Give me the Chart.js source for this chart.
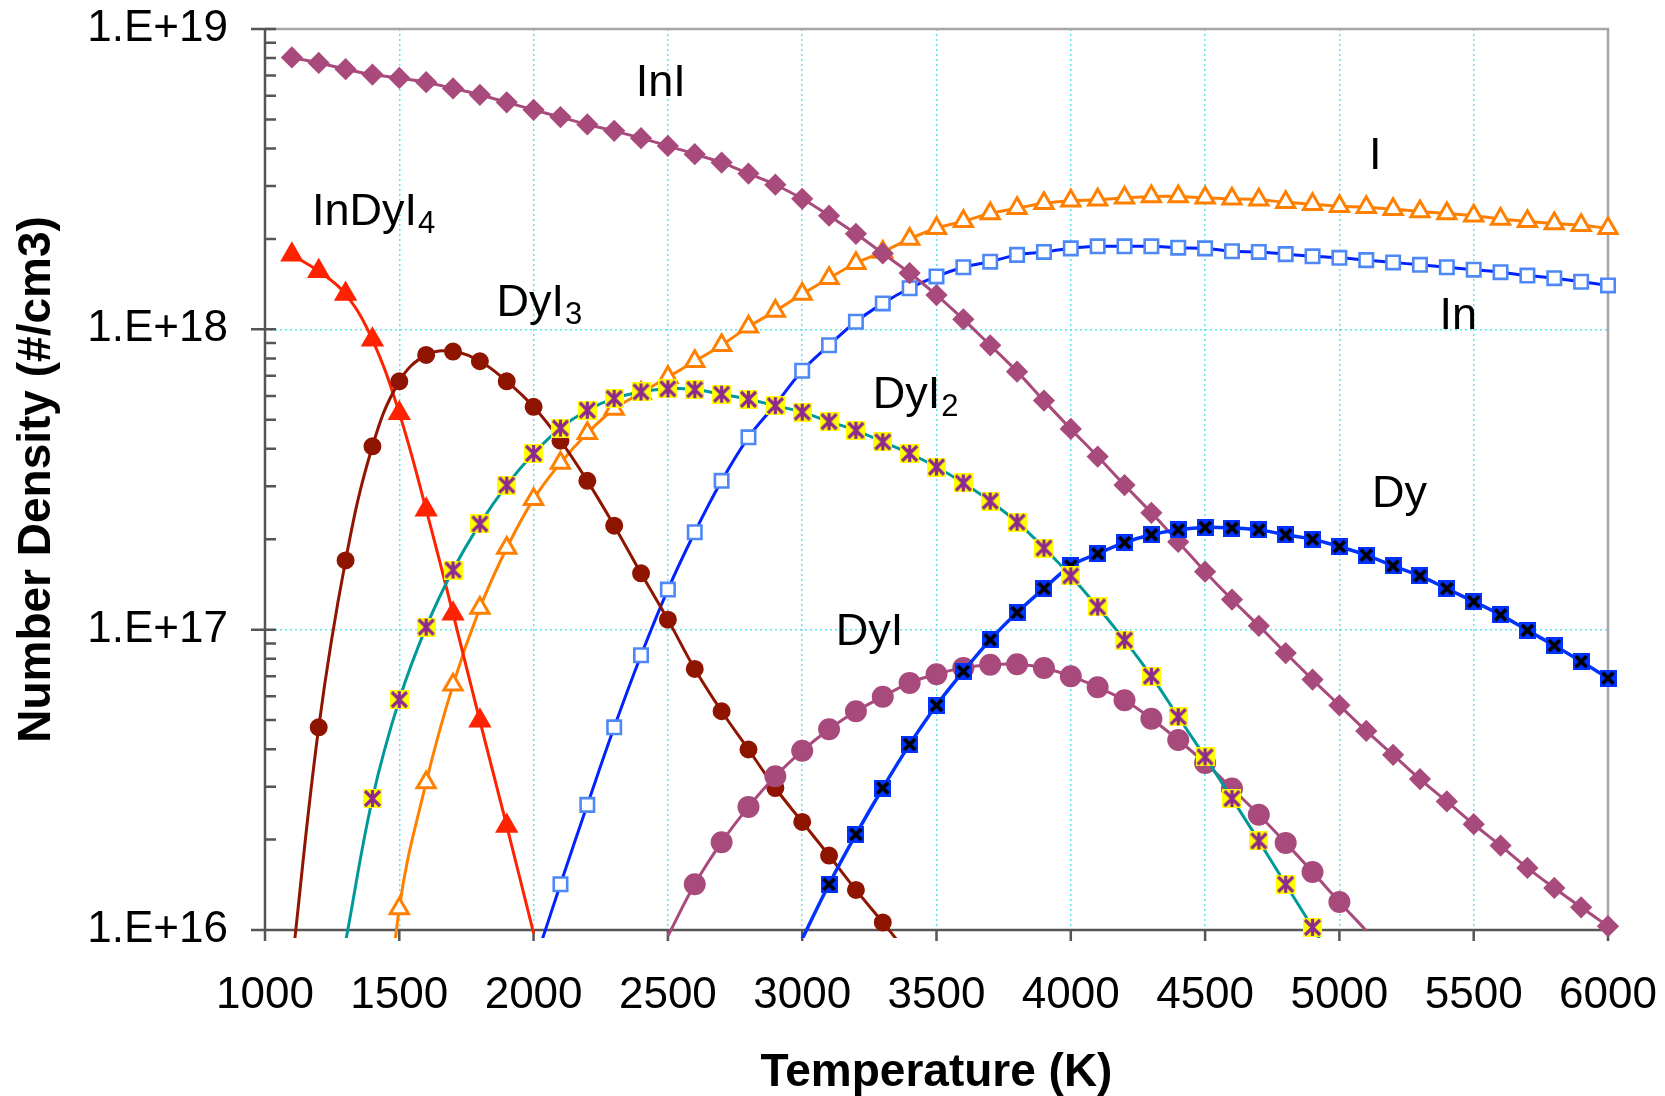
<!DOCTYPE html>
<html>
<head>
<meta charset="utf-8">
<script src="https://cdn.jsdelivr.net/npm/chart.js@4.4.0/dist/chart.umd.min.js"></script>
<style>
  html, body { margin: 0; padding: 0; background: #fff; }
  #wrap { width: 1665px; height: 1096px; }
</style>
</head>
<body>
<div id="wrap"><canvas id="chart" width="1665" height="1096"></canvas></div>
<script>
// temperature grid (K), every series uses a slice of it
const temperature = [1100, 1200, 1300, 1400, 1500, 1600, 1700, 1800, 1900, 2000,
  2100, 2200, 2300, 2400, 2500, 2600, 2700, 2800, 2900, 3000,
  3100, 3200, 3300, 3400, 3500, 3600, 3700, 3800, 3900, 4000,
  4100, 4200, 4300, 4400, 4500, 4600, 4700, 4800, 4900, 5000,
  5100, 5200, 5300, 5400, 5500, 5600, 5700, 5800, 5900, 6000];

// number densities (#/cm3)
const inI = [8.04e18, 7.71e18, 7.35e18, 7.05e18, 6.87e18, 6.65e18, 6.34e18, 6.04e18, 5.70e18, 5.38e18,
  5.09e18, 4.81e18, 4.58e18, 4.33e18, 4.08e18, 3.83e18, 3.59e18, 3.30e18, 3.03e18, 2.72e18,
  2.39e18, 2.08e18, 1.79e18, 1.54e18, 1.30e18, 1.08e18, 8.85e17, 7.23e17, 5.79e17, 4.66e17,
  3.77e17, 3.03e17, 2.45e17, 1.96e17, 1.56e17, 1.26e17, 1.03e17, 8.36e16, 6.82e16, 5.60e16,
  4.60e16, 3.83e16, 3.18e16, 2.68e16, 2.25e16, 1.91e16, 1.61e16, 1.38e16, 1.19e16, 1.03e16];
const inIFrom = 1100;

const iAtom = [1.58e15, 1.18e16, 3.10e16, 6.55e16, 1.18e17, 1.87e17, 2.72e17, 3.59e17, 4.51e17, 5.43e17, 6.14e17,
  6.93e17, 7.83e17, 8.85e17, 1.02e18, 1.15e18, 1.31e18, 1.48e18, 1.66e18, 1.81e18, 2.00e18,
  2.17e18, 2.29e18, 2.43e18, 2.53e18, 2.63e18, 2.68e18, 2.70e18, 2.74e18, 2.77e18, 2.77e18,
  2.74e18, 2.72e18, 2.70e18, 2.65e18, 2.61e18, 2.57e18, 2.55e18, 2.51e18, 2.47e18, 2.43e18,
  2.39e18, 2.33e18, 2.29e18, 2.25e18, 2.22e18, 2.17e18];
const iAtomFrom = 1400;

const inAtom = [7.59e15, 1.42e16, 2.61e16, 4.73e16, 8.22e16, 1.36e17, 2.11e17, 3.13e17, 4.37e17, 5.61e17,
  7.28e17, 8.85e17, 1.06e18, 1.22e18, 1.37e18, 1.50e18, 1.61e18, 1.68e18, 1.77e18, 1.81e18,
  1.86e18, 1.89e18, 1.89e18, 1.89e18, 1.87e18, 1.86e18, 1.82e18, 1.81e18, 1.78e18, 1.75e18,
  1.73e18, 1.70e18, 1.67e18, 1.64e18, 1.61e18, 1.58e18, 1.55e18, 1.51e18, 1.48e18, 1.44e18,
  1.40e18];
const inAtomFrom = 2000;

const inDyI4 = [1.77e18, 1.56e18, 1.31e18, 9.23e17, 5.26e17, 2.51e17, 1.13e17, 4.97e16, 2.22e16, 9.77e15];
const inDyI4From = 1100;

const dyI3 = [7.59e15, 4.73e16, 1.70e17, 4.08e17, 6.71e17, 8.22e17, 8.43e17, 7.83e17, 6.71e17, 5.52e17,
  4.26e17, 3.13e17, 2.22e17, 1.54e17, 1.08e17, 7.40e16, 5.35e16, 3.99e16, 2.97e16, 2.29e16,
  1.77e16, 1.36e16, 1.06e16, 8.22e15];
const dyI3From = 1100;

const dyI2 = [9.12e15, 2.74e16, 5.85e16, 1.02e17, 1.58e17, 2.25e17, 3.03e17, 3.86e17, 4.69e17, 5.38e17,
  5.89e17, 6.19e17, 6.34e17, 6.30e17, 6.08e17, 5.85e17, 5.57e17, 5.30e17, 4.93e17, 4.61e17,
  4.22e17, 3.86e17, 3.48e17, 3.08e17, 2.68e17, 2.28e17, 1.87e17, 1.51e17, 1.19e17, 9.23e16,
  7.00e16, 5.13e16, 3.77e16, 2.74e16, 1.98e16, 1.42e16, 1.02e16, 7.24e15];
const dyI2From = 1300;

const dyI = [9.55e15, 1.42e16, 1.96e16, 2.57e16, 3.25e16, 3.95e16, 4.66e16, 5.35e16, 5.98e16, 6.65e16,
  7.11e16, 7.46e16, 7.64e16, 7.67e16, 7.45e16, 7.00e16, 6.43e16, 5.82e16, 5.05e16, 4.29e16,
  3.60e16, 2.96e16, 2.42e16, 1.95e16, 1.56e16, 1.24e16, 9.95e15];
const dyIFrom = 2500;

const dy = [9.33e15, 1.42e16, 2.08e16, 2.97e16, 4.15e16, 5.60e16, 7.26e16, 9.25e16, 1.14e17, 1.37e17,
  1.63e17, 1.79e17, 1.95e17, 2.07e17, 2.15e17, 2.19e17, 2.18e17, 2.15e17, 2.07e17, 2.00e17,
  1.89e17, 1.77e17, 1.63e17, 1.51e17, 1.37e17, 1.24e17, 1.12e17, 9.95e16, 8.85e16, 7.83e16,
  6.90e16];
const dyFrom = 3000;

// axis ticks
const xTicks = [1000, 1500, 2000, 2500, 3000, 3500, 4000, 4500, 5000, 5500, 6000];
const yDecades = [1e16, 1e17, 1e18, 1e19];
const yTickLabels = ["1.E+16", "1.E+17", "1.E+18", "1.E+19"];

// in-plot species labels (text, subscript, temperature / density of the left-middle anchor)
const speciesLabels = [
  { text: "InI", sub: "", t: 2380, n: 6.6e18 },
  { text: "I", sub: "", t: 5110, n: 3.77e18 },
  { text: "InDyI", sub: "4", t: 1175, n: 2.45e18 },
  { text: "DyI", sub: "3", t: 1862, n: 1.22e18 },
  { text: "In", sub: "", t: 5373, n: 1.10e18 },
  { text: "DyI", sub: "2", t: 3263, n: 6.04e17 },
  { text: "Dy", sub: "", t: 5121, n: 2.81e17 },
  { text: "DyI", sub: "", t: 3125, n: 9.75e16 },
];

const FONT = "'Liberation Sans', Arial, sans-serif";
const CYAN = "#5fe3ee";
const NONE = "rgba(0,0,0,0)";

function points(values, from) {
  const i0 = temperature.indexOf(from);
  return values.map((v, i) => ({ x: temperature[i0 + i], y: v }));
}

function starMarker() {
  const c = document.createElement("canvas");
  c.width = 19; c.height = 19;
  const g = c.getContext("2d");
  g.fillStyle = "#ffff00";
  g.fillRect(0, 0, 19, 19);
  g.strokeStyle = "#8e2a8e";
  g.lineWidth = 3.2;
  g.beginPath();
  g.moveTo(2, 2); g.lineTo(17, 17);
  g.moveTo(17, 2); g.lineTo(2, 17);
  g.moveTo(9.5, 1); g.lineTo(9.5, 18);
  g.stroke();
  return c;
}

function crossMarker() {
  const c = document.createElement("canvas");
  c.width = 17; c.height = 17;
  const g = c.getContext("2d");
  g.fillStyle = "#0033ff";
  g.fillRect(0, 0, 17, 17);
  g.strokeStyle = "#000";
  g.lineWidth = 3.8;
  g.beginPath();
  g.moveTo(3, 3); g.lineTo(14, 14);
  g.moveTo(14, 3); g.lineTo(3, 14);
  g.stroke();
  return c;
}

// hide the markers of points that lie below the axis
function radius(r) {
  return (ctx) => (ctx.raw && ctx.raw.y < 1e16 ? 0 : r);
}

const clip = { left: 12, top: 12, right: 14, bottom: 8 };

const datasets = [
  { label: "DyI2", data: points(dyI2, dyI2From), borderColor: "#009999", borderWidth: 3,
    pointStyle: starMarker(), pointRadius: radius(9) },
  { label: "Dy", data: points(dy, dyFrom), borderColor: "#0033ff", borderWidth: 3.5,
    pointStyle: crossMarker(), pointRadius: radius(8) },
  { label: "InI", data: points(inI, inIFrom), borderColor: "#a84a7c", borderWidth: 3,
    pointStyle: "rectRot", pointRadius: radius(9), pointBackgroundColor: "#a84a7c", pointBorderColor: "#a84a7c" },
  { label: "DyI", data: points(dyI, dyIFrom), borderColor: "#a84a7c", borderWidth: 3,
    pointStyle: "circle", pointRadius: radius(9.5), pointBackgroundColor: "#a84a7c", pointBorderColor: "#a84a7c" },
  { label: "DyI3", data: points(dyI3, dyI3From), borderColor: "#8f1500", borderWidth: 3,
    pointStyle: "circle", pointRadius: radius(7.5), pointBackgroundColor: "#8f1500", pointBorderColor: "#8f1500" },
  { label: "InDyI4", data: points(inDyI4, inDyI4From), borderColor: "#ff2200", borderWidth: 3,
    pointStyle: "triangle", pointRadius: radius(10.5), pointBackgroundColor: "#ff2200", pointBorderColor: "#ff2200" },
  { label: "In", data: points(inAtom, inAtomFrom), borderColor: "#0022ff", borderWidth: 3,
    pointStyle: "rect", pointRadius: radius(9.5), pointBackgroundColor: "#ffffff", pointBorderColor: "#4d88f5", pointBorderWidth: 2.6 },
  { label: "I", data: points(iAtom, iAtomFrom), borderColor: "#ff8000", borderWidth: 3,
    pointStyle: "triangle", pointRadius: radius(10.5), pointBackgroundColor: "#ffffff", pointBorderColor: "#ff8000", pointBorderWidth: 3 },
];
datasets.forEach((d) => { d.clip = clip; d.fill = false; });

const isMajor = (v) => Math.abs(Math.log10(v) - Math.round(Math.log10(v))) < 1e-9;

// plot frame, axis lines and tick marks
const frame = {
  id: "frame",
  beforeDatasetsDraw(chart) {
    const { ctx, chartArea: a, scales: { x, y } } = chart;
    ctx.save();
    ctx.lineCap = "butt";
    ctx.strokeStyle = "#a6a6a6";
    ctx.lineWidth = 2.5;
    ctx.beginPath();
    ctx.moveTo(a.left, a.top);
    ctx.lineTo(a.right, a.top);
    ctx.lineTo(a.right, a.bottom);
    ctx.stroke();

    ctx.strokeStyle = "#555555";
    ctx.lineWidth = 2.5;
    ctx.beginPath();
    ctx.moveTo(a.left, a.top - 1);
    ctx.lineTo(a.left, a.bottom);
    ctx.lineTo(a.right, a.bottom);
    y.ticks.forEach((t) => {
      const py = y.getPixelForValue(t.value);
      ctx.moveTo(a.left - (isMajor(t.value) ? 14 : 0), py);
      ctx.lineTo(a.left + 11, py);
    });
    x.ticks.forEach((t) => {
      const px = x.getPixelForValue(t.value);
      ctx.moveTo(px, a.bottom);
      ctx.lineTo(px, a.bottom + 11);
    });
    ctx.stroke();
    ctx.restore();
  },
};

// species names written inside the plot
const names = {
  id: "names",
  afterDatasetsDraw(chart) {
    const { ctx, scales: { x, y } } = chart;
    ctx.save();
    ctx.fillStyle = "#000";
    ctx.textBaseline = "middle";
    ctx.textAlign = "left";
    speciesLabels.forEach((l) => {
      const px = x.getPixelForValue(l.t);
      const py = y.getPixelForValue(l.n);
      ctx.font = "45px " + FONT;
      ctx.fillText(l.text, px, py);
      if (l.sub) {
        const w = ctx.measureText(l.text).width;
        ctx.font = "31px " + FONT;
        ctx.fillText(l.sub, px + w + 1, py + 12);
      }
    });
    ctx.restore();
  },
};

new Chart(document.getElementById("chart").getContext("2d"), {
  type: "line",
  data: { datasets: datasets },
  plugins: [frame, names],
  options: {
    responsive: false,
    animation: false,
    devicePixelRatio: 1,
    layout: { padding: { top: 29, right: 57, left: 0, bottom: 0 } },
    plugins: {
      legend: { display: false },
      tooltip: { enabled: false },
    },
    elements: {
      line: { tension: 0.4, capBezierPoints: false },
      point: { borderWidth: 1 },
    },
    scales: {
      x: {
        type: "linear",
        min: xTicks[0],
        max: xTicks[xTicks.length - 1],
        afterFit: (s) => { s.height = 166; s.paddingLeft = 0; s.paddingRight = 0; },
        afterBuildTicks: (s) => { s.ticks = xTicks.map((v) => ({ value: v })); },
        ticks: {
          autoSkip: false,
          maxRotation: 0,
          padding: 0,
          color: "#000",
          font: { family: FONT, size: 44 },
          callback: (v) => String(v),
        },
        grid: {
          drawTicks: true,
          tickLength: 39,
          tickColor: NONE,
          lineWidth: 1.5,
          color: (ctx) => (ctx.tick && ctx.tick.value > xTicks[0] && ctx.tick.value < xTicks[xTicks.length - 1] ? CYAN : NONE),
        },
        border: { display: false, dash: [2, 3] },
        title: {
          display: true,
          text: "Temperature (K)",
          color: "#000",
          font: { family: FONT, size: 46, weight: "bold", lineHeight: 1 },
          padding: { top: 0, bottom: 0 },
        },
      },
      y: {
        type: "logarithmic",
        min: yDecades[0],
        max: yDecades[yDecades.length - 1],
        afterFit: (s) => { s.width = 265; s.paddingTop = 0; s.paddingBottom = 0; },
        afterBuildTicks: (s) => {
          const t = [];
          yDecades.forEach((d, i) => {
            if (i === yDecades.length - 1) { t.push({ value: d }); return; }
            for (let m = 1; m <= 9; m++) t.push({ value: m * d });
          });
          s.ticks = t;
        },
        ticks: {
          autoSkip: false,
          padding: 0,
          color: "#000",
          font: { family: FONT, size: 44 },
          callback: (v) => {
            const i = yDecades.findIndex((d) => Math.abs(d - v) / d < 1e-9);
            return i >= 0 ? yTickLabels[i] : "";
          },
        },
        grid: {
          drawTicks: true,
          tickLength: 37,
          tickColor: NONE,
          lineWidth: 1.5,
          color: (ctx) => (ctx.tick && isMajor(ctx.tick.value) && ctx.tick.value > yDecades[0] && ctx.tick.value < yDecades[yDecades.length - 1] ? CYAN : NONE),
        },
        border: { display: false, dash: [2, 3] },
        title: {
          display: true,
          text: "Number Density (#/cm3)",
          color: "#000",
          font: { family: FONT, size: 46, weight: "bold", lineHeight: 1 },
          padding: { top: 14, bottom: 0 },
        },
      },
    },
  },
});
</script>
</body>
</html>
